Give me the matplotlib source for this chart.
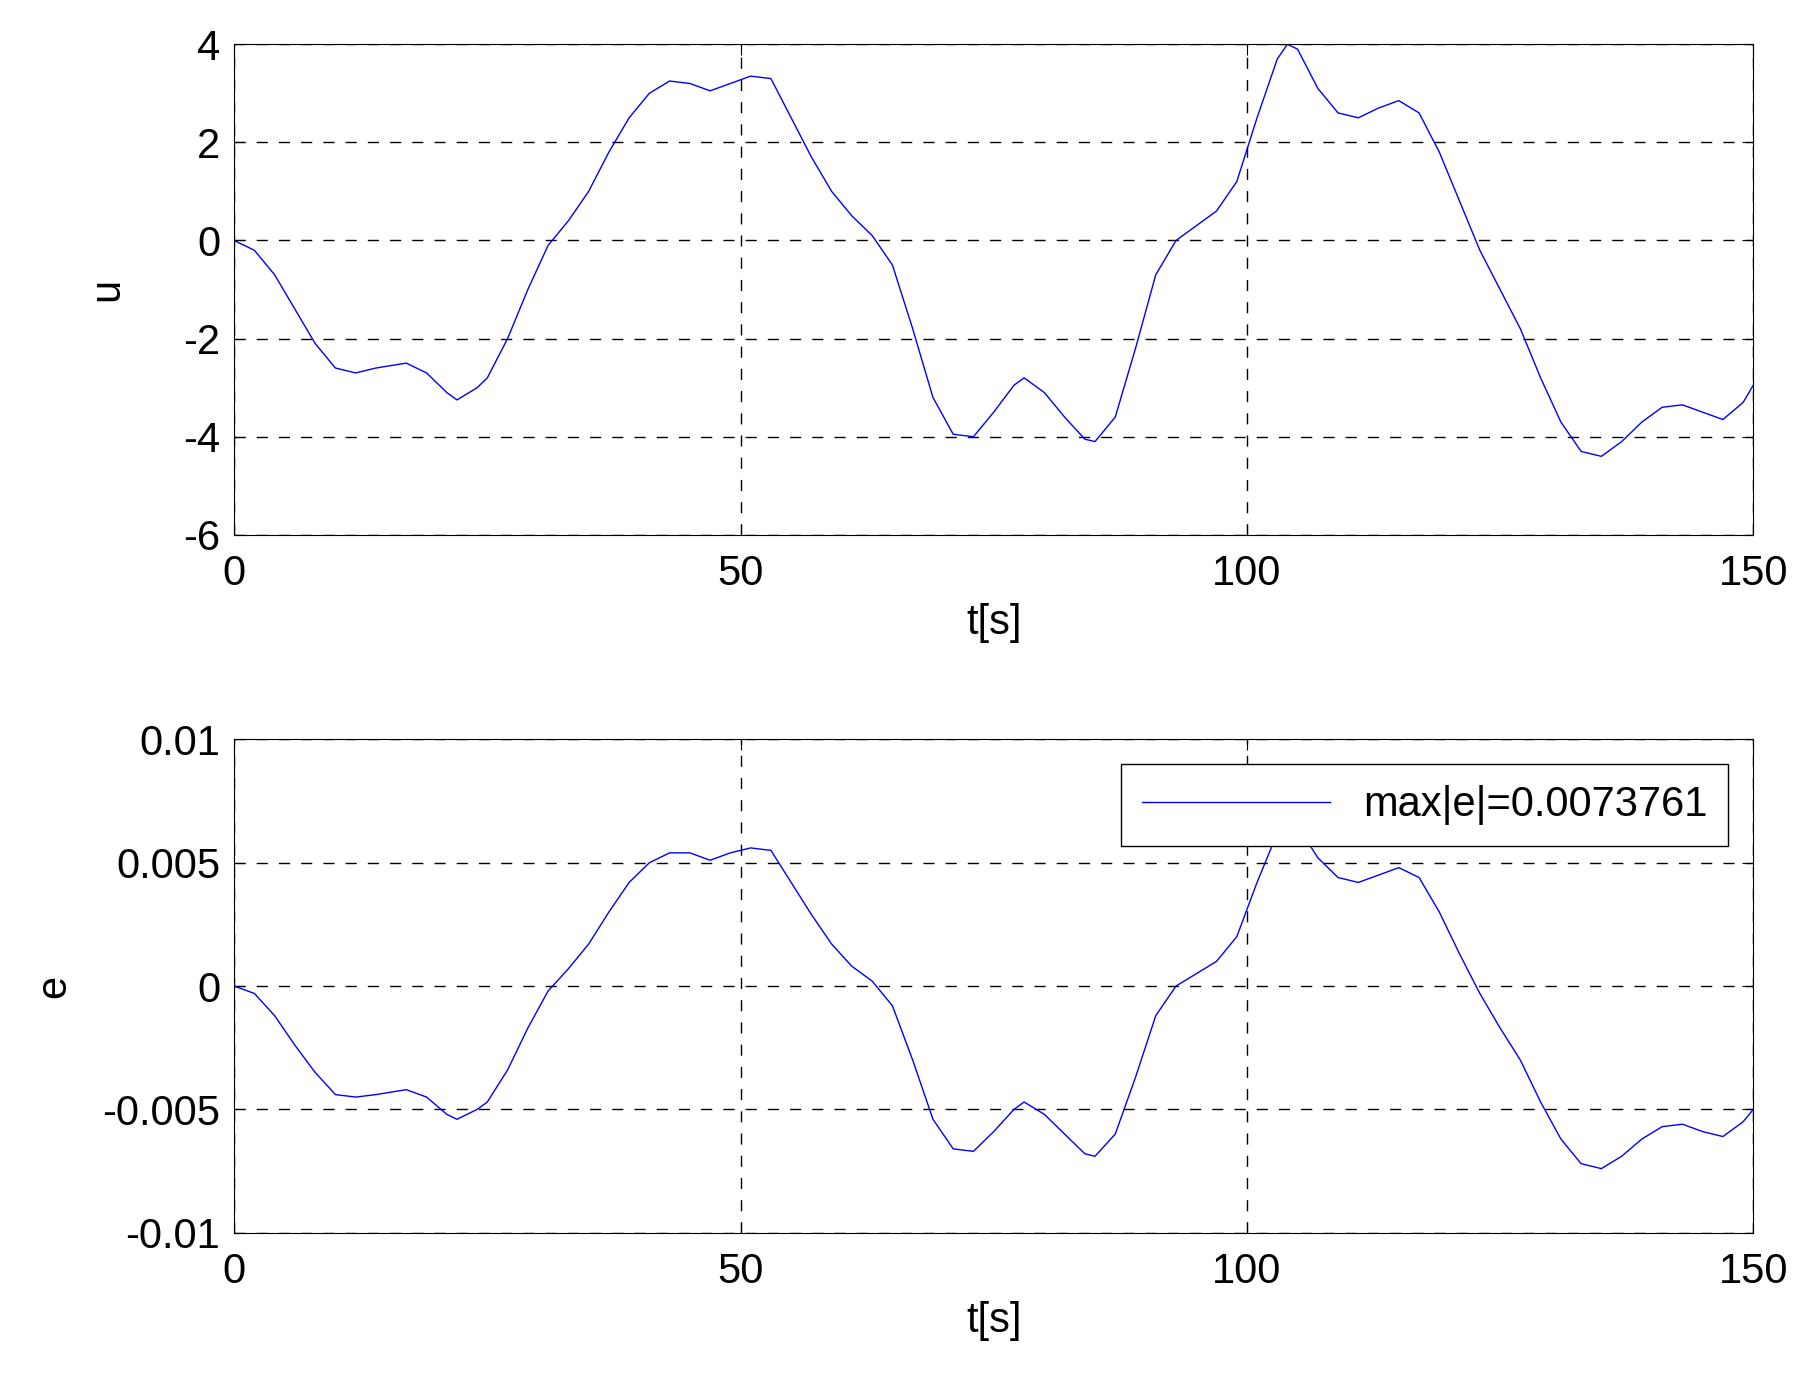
import matplotlib.pyplot as plt

plt.rcParams['font.family'] = ['Liberation Sans', 'DejaVu Sans']

t = [0, 2, 4, 6, 8, 10, 12, 14, 17, 19, 21, 22, 24, 25, 27, 29, 31, 33, 35, 37, 39, 41, 43, 45, 47,
     49, 51, 53, 55, 57, 59, 61, 63, 65, 67, 69, 71, 73, 75, 77, 78, 80, 82, 84, 85, 87, 89, 91, 93,
     95, 97, 99, 101, 103, 104, 105, 107, 109, 111, 113, 115, 117, 119, 121, 123, 125, 127, 129,
     131, 133, 135, 137, 139, 141, 143, 145, 147, 149, 150]
u = [0, -0.2, -0.7, -1.4, -2.1, -2.6, -2.7, -2.6, -2.5, -2.7, -3.1, -3.25, -3.0, -2.8, -2.0, -1.0,
     -0.1, 0.4, 1.0, 1.8, 2.5, 3.0, 3.25, 3.2, 3.05, 3.2, 3.35, 3.3, 2.5, 1.7, 1.0, 0.5, 0.1, -0.5,
     -1.8, -3.2, -3.95, -4.0, -3.5, -2.95, -2.8, -3.1, -3.6, -4.05, -4.1, -3.6, -2.2, -0.7, 0.0, 0.3,
     0.6, 1.2, 2.5, 3.7, 4.0, 3.9, 3.1, 2.6, 2.5, 2.7, 2.85, 2.6, 1.8, 0.8, -0.2, -1.0, -1.8, -2.8,
     -3.7, -4.3, -4.4, -4.1, -3.7, -3.4, -3.35, -3.5, -3.65, -3.3, -2.95]
e = [0, -0.0003, -0.0012, -0.0024, -0.0035, -0.0044, -0.0045, -0.0044, -0.0042, -0.0045, -0.0052,
     -0.0054, -0.005, -0.0047, -0.0034, -0.0017, -0.0002, 0.0007, 0.0017, 0.003, 0.0042, 0.005,
     0.0054, 0.0054, 0.0051, 0.0054, 0.0056, 0.0055, 0.0042, 0.0029, 0.0017, 0.0008, 0.0002, -0.0008,
     -0.003, -0.0054, -0.0066, -0.0067, -0.0059, -0.005, -0.0047, -0.0052, -0.006, -0.0068, -0.0069,
     -0.006, -0.0037, -0.0012, 0.0, 0.0005, 0.001, 0.002, 0.0042, 0.0062, 0.0067, 0.0065, 0.0052,
     0.0044, 0.0042, 0.0045, 0.0048, 0.0044, 0.003, 0.0013, -0.0003, -0.0017, -0.003, -0.0047,
     -0.0062, -0.0072, -0.0074, -0.0069, -0.0062, -0.0057, -0.0056, -0.0059, -0.0061, -0.0055, -0.005]


def style(ax, yticks, ylabel, ylabelpad):
    ax.set_xlim(0, 150)
    ax.set_xticks([0, 50, 100, 150])
    ax.set_yticks(yticks)
    ax.set_ylim(yticks[0], yticks[-1])
    ax.grid(True, color='black', linestyle=(0, (8, 8)), linewidth=1)
    ax.tick_params(labelsize=30, direction='in', length=8, top=True, right=True)
    ax.tick_params(axis='x', pad=14)
    ax.tick_params(axis='y', pad=10)
    ax.set_xlabel('t[s]', fontsize=30, labelpad=6)
    ax.set_ylabel(ylabel, fontsize=30, labelpad=ylabelpad)


fig = plt.figure(figsize=(18.15, 13.82), dpi=100)
ax1 = fig.add_axes([0.129, 0.613, 0.837, 0.355])
ax1.plot(t, u, color='blue', linewidth=1)
style(ax1, [-6, -4, -2, 0, 2, 4], 'u', 40)
ax1.set_yticklabels(['-6', '-4', '-2', '0', '2', '4'])
ax1.set_xticklabels(['0', '50', '100', '150'])

ax2 = fig.add_axes([0.129, 0.108, 0.837, 0.357])
ax2.plot(t, e, color='blue', linewidth=1, label='max|e|=0.0073761')
style(ax2, [-0.01, -0.005, 0, 0.005, 0.01], 'e', 20)
ax2.set_yticklabels(['-0.01', '-0.005', '0', '0.005', '0.01'])
ax2.set_xticklabels(['0', '50', '100', '150'])
leg = ax2.legend(loc='upper right', fontsize=30, fancybox=False, framealpha=1,
                 edgecolor='black', handlelength=4.5, borderaxespad=0.6, borderpad=0.5)
leg.get_frame().set_linewidth(1)

fig.savefig('out.png')
